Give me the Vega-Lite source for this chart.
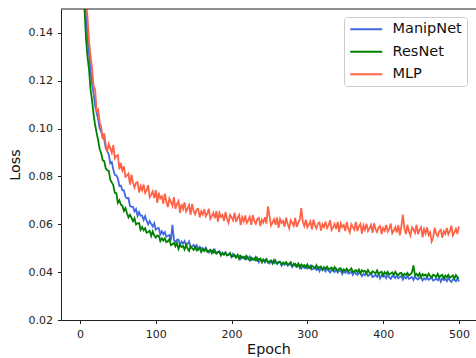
{
"$schema": "https://vega.github.io/schema/vega-lite/v6.json",
"width": 415, "height": 311,
"autosize": {"type": "none"},
"padding": {"left": 61, "top": 9, "right": 0, "bottom": 38},
"config": {
  "view": {"stroke": null},
  "font": "DejaVu Sans",
  "axis": {"grid": false, "labelFontSize": 11, "labelFont": "DejaVu Sans", "titleFont": "DejaVu Sans", "titleFontSize": 14.3, "titleFontWeight": "normal", "tickSize": 3.5, "tickColor": "#222", "domainColor": "#222", "labelColor": "#222", "titleColor": "#111", "tickWidth": 1, "domainWidth": 1}
},
"data": {"values": [
{"e":1,"a":0.26,"b":0.25,"c":0.27},
{"e":2,"a":0.22,"b":0.205,"c":0.225},
{"e":4,"a":0.185,"b":0.172,"c":0.19},
{"e":6,"a":0.164,"b":0.15,"c":0.168},
{"e":8,"a":0.1498,"b":0.1376,"c":0.1523},
{"e":10,"a":0.1373,"b":0.13,"c":0.1465},
{"e":12,"a":0.1314,"b":0.1245,"c":0.1363},
{"e":14,"a":0.1241,"b":0.1164,"c":0.1305},
{"e":16,"a":0.1187,"b":0.1117,"c":0.125},
{"e":18,"a":0.1148,"b":0.1059,"c":0.1178},
{"e":20,"a":0.1095,"b":0.1015,"c":0.1165},
{"e":22,"a":0.1067,"b":0.0982,"c":0.1075},
{"e":24,"a":0.1041,"b":0.0952,"c":0.108},
{"e":26,"a":0.1002,"b":0.0915,"c":0.1028},
{"e":28,"a":0.0988,"b":0.0897,"c":0.1008},
{"e":30,"a":0.0963,"b":0.0868,"c":0.0958},
{"e":32,"a":0.0955,"b":0.0864,"c":0.098},
{"e":34,"a":0.0919,"b":0.0835,"c":0.0934},
{"e":36,"a":0.0905,"b":0.0826,"c":0.0905},
{"e":38,"a":0.0893,"b":0.0823,"c":0.0936},
{"e":40,"a":0.0855,"b":0.0786,"c":0.0918},
{"e":42,"a":0.086,"b":0.0775,"c":0.0899},
{"e":44,"a":0.0829,"b":0.0763,"c":0.0931},
{"e":46,"a":0.0807,"b":0.0732,"c":0.0876},
{"e":48,"a":0.0804,"b":0.073,"c":0.0886},
{"e":50,"a":0.0792,"b":0.069,"c":0.0889},
{"e":52,"a":0.076,"b":0.0701,"c":0.0829},
{"e":54,"a":0.0762,"b":0.0682,"c":0.0856},
{"e":56,"a":0.0742,"b":0.0677,"c":0.0825},
{"e":58,"a":0.0742,"b":0.0656,"c":0.0842},
{"e":60,"a":0.0715,"b":0.0668,"c":0.0798},
{"e":62,"a":0.0709,"b":0.0646,"c":0.0803},
{"e":64,"a":0.071,"b":0.0629,"c":0.0812},
{"e":66,"a":0.0677,"b":0.064,"c":0.0766},
{"e":68,"a":0.0673,"b":0.0627,"c":0.0807},
{"e":70,"a":0.0673,"b":0.0613,"c":0.0773},
{"e":72,"a":0.0654,"b":0.0625,"c":0.0754},
{"e":74,"a":0.0664,"b":0.0599,"c":0.0774},
{"e":76,"a":0.0635,"b":0.0604,"c":0.0776},
{"e":78,"a":0.0651,"b":0.0605,"c":0.0733},
{"e":80,"a":0.0636,"b":0.0577,"c":0.076},
{"e":82,"a":0.0636,"b":0.0589,"c":0.0742},
{"e":84,"a":0.0618,"b":0.0575,"c":0.0766},
{"e":86,"a":0.0634,"b":0.0584,"c":0.0731},
{"e":88,"a":0.0614,"b":0.0565,"c":0.0742},
{"e":90,"a":0.06,"b":0.0568,"c":0.0764},
{"e":92,"a":0.0614,"b":0.0573,"c":0.0713},
{"e":94,"a":0.0602,"b":0.0551,"c":0.0724},
{"e":96,"a":0.0591,"b":0.057,"c":0.0738},
{"e":98,"a":0.0604,"b":0.0554,"c":0.071},
{"e":100,"a":0.0578,"b":0.0544,"c":0.0743},
{"e":102,"a":0.0583,"b":0.0553,"c":0.069},
{"e":104,"a":0.0584,"b":0.0552,"c":0.0732},
{"e":106,"a":0.0558,"b":0.053,"c":0.0709},
{"e":108,"a":0.0571,"b":0.0542,"c":0.0717},
{"e":110,"a":0.0558,"b":0.0532,"c":0.0686},
{"e":112,"a":0.0568,"b":0.0542,"c":0.0728},
{"e":114,"a":0.0549,"b":0.0525,"c":0.0694},
{"e":116,"a":0.0551,"b":0.0529,"c":0.0672},
{"e":118,"a":0.0555,"b":0.0538,"c":0.0708},
{"e":120,"a":0.0533,"b":0.0513,"c":0.0694},
{"e":122,"a":0.0598,"b":0.0517,"c":0.0677},
{"e":124,"a":0.0535,"b":0.0522,"c":0.0713},
{"e":126,"a":0.0525,"b":0.0508,"c":0.0665},
{"e":128,"a":0.0535,"b":0.0522,"c":0.0686},
{"e":130,"a":0.0536,"b":0.0497,"c":0.0698},
{"e":132,"a":0.0515,"b":0.0515,"c":0.0648},
{"e":134,"a":0.0528,"b":0.0505,"c":0.0685},
{"e":136,"a":0.0519,"b":0.0509,"c":0.0664},
{"e":138,"a":0.053,"b":0.0495,"c":0.0692},
{"e":140,"a":0.0514,"b":0.0515,"c":0.0654},
{"e":142,"a":0.0518,"b":0.0499,"c":0.0666},
{"e":144,"a":0.0528,"b":0.0489,"c":0.0681},
{"e":146,"a":0.0504,"b":0.0507,"c":0.064},
{"e":148,"a":0.0508,"b":0.05,"c":0.0685},
{"e":150,"a":0.0514,"b":0.0493,"c":0.0655},
{"e":152,"a":0.0502,"b":0.0506,"c":0.0642},
{"e":154,"a":0.0512,"b":0.0491,"c":0.0662},
{"e":156,"a":0.0494,"b":0.0497,"c":0.0665},
{"e":158,"a":0.0506,"b":0.05,"c":0.0629},
{"e":160,"a":0.0499,"b":0.0484,"c":0.0654},
{"e":162,"a":0.0501,"b":0.0496,"c":0.0641},
{"e":164,"a":0.049,"b":0.0488,"c":0.0663},
{"e":166,"a":0.0502,"b":0.0497,"c":0.0634},
{"e":168,"a":0.049,"b":0.0484,"c":0.0645},
{"e":170,"a":0.0482,"b":0.0488,"c":0.0665},
{"e":172,"a":0.0494,"b":0.0492,"c":0.0623},
{"e":174,"a":0.0488,"b":0.0479,"c":0.0634},
{"e":176,"a":0.0481,"b":0.0493,"c":0.0648},
{"e":178,"a":0.0493,"b":0.0483,"c":0.0625},
{"e":180,"a":0.0478,"b":0.0478,"c":0.0655},
{"e":182,"a":0.0484,"b":0.0484,"c":0.0611},
{"e":184,"a":0.0487,"b":0.0485,"c":0.0648},
{"e":186,"a":0.047,"b":0.0471,"c":0.0631},
{"e":188,"a":0.0482,"b":0.0479,"c":0.0639},
{"e":190,"a":0.0474,"b":0.0473,"c":0.0614},
{"e":192,"a":0.0483,"b":0.0481,"c":0.0652},
{"e":194,"a":0.047,"b":0.047,"c":0.0624},
{"e":196,"a":0.0473,"b":0.0473,"c":0.0606},
{"e":198,"a":0.0477,"b":0.048,"c":0.0639},
{"e":200,"a":0.0464,"b":0.0464,"c":0.0629},
{"e":202,"a":0.0477,"b":0.0467,"c":0.0616},
{"e":204,"a":0.0467,"b":0.0472,"c":0.0649},
{"e":206,"a":0.0462,"b":0.0461,"c":0.061},
{"e":208,"a":0.0469,"b":0.0472,"c":0.0628},
{"e":210,"a":0.0469,"b":0.0455,"c":0.0639},
{"e":212,"a":0.0455,"b":0.0468,"c":0.0597},
{"e":214,"a":0.0464,"b":0.0461,"c":0.063},
{"e":216,"a":0.0458,"b":0.0464,"c":0.0612},
{"e":218,"a":0.0466,"b":0.0454,"c":0.0637},
{"e":220,"a":0.0455,"b":0.0467,"c":0.0606},
{"e":222,"a":0.0459,"b":0.0456,"c":0.0617},
{"e":224,"a":0.0466,"b":0.0449,"c":0.0631},
{"e":226,"a":0.045,"b":0.0461,"c":0.0598},
{"e":228,"a":0.0453,"b":0.0456,"c":0.0638},
{"e":230,"a":0.0458,"b":0.0451,"c":0.0614},
{"e":232,"a":0.0449,"b":0.0463,"c":0.0602},
{"e":234,"a":0.0459,"b":0.0448,"c":0.0622},
{"e":236,"a":0.0442,"b":0.0454,"c":0.0627},
{"e":238,"a":0.0455,"b":0.0457,"c":0.0593},
{"e":240,"a":0.0448,"b":0.0441,"c":0.0619},
{"e":242,"a":0.0451,"b":0.0453,"c":0.0607},
{"e":244,"a":0.0441,"b":0.0445,"c":0.063},
{"e":246,"a":0.0454,"b":0.0454,"c":0.0603},
{"e":248,"a":0.0443,"b":0.0441,"c":0.0675},
{"e":250,"a":0.0436,"b":0.0445,"c":0.0636},
{"e":252,"a":0.0448,"b":0.0449,"c":0.0595},
{"e":254,"a":0.0443,"b":0.0436,"c":0.0606},
{"e":256,"a":0.0437,"b":0.0451,"c":0.0621},
{"e":258,"a":0.0449,"b":0.0441,"c":0.0598},
{"e":260,"a":0.0434,"b":0.0436,"c":0.0629},
{"e":262,"a":0.044,"b":0.0443,"c":0.0585},
{"e":264,"a":0.0443,"b":0.0444,"c":0.0622},
{"e":266,"a":0.0427,"b":0.0431,"c":0.0606},
{"e":268,"a":0.0439,"b":0.044,"c":0.0614},
{"e":270,"a":0.0431,"b":0.0434,"c":0.059},
{"e":272,"a":0.044,"b":0.0442,"c":0.0628},
{"e":274,"a":0.0428,"b":0.0431,"c":0.0601},
{"e":276,"a":0.0431,"b":0.0435,"c":0.0583},
{"e":278,"a":0.0435,"b":0.0442,"c":0.0617},
{"e":280,"a":0.0422,"b":0.0426,"c":0.0606},
{"e":282,"a":0.0436,"b":0.043,"c":0.0594},
{"e":284,"a":0.0426,"b":0.0435,"c":0.0627},
{"e":286,"a":0.0421,"b":0.0425,"c":0.0589},
{"e":288,"a":0.0428,"b":0.0436,"c":0.0607},
{"e":290,"a":0.0429,"b":0.0419,"c":0.0619},
{"e":292,"a":0.0415,"b":0.0432,"c":0.0668},
{"e":294,"a":0.0424,"b":0.0426,"c":0.0611},
{"e":296,"a":0.0418,"b":0.0429,"c":0.0593},
{"e":298,"a":0.0426,"b":0.0419,"c":0.0619},
{"e":300,"a":0.0415,"b":0.0432,"c":0.0587},
{"e":302,"a":0.0419,"b":0.0421,"c":0.0599},
{"e":304,"a":0.0427,"b":0.0415,"c":0.0612},
{"e":306,"a":0.0411,"b":0.0427,"c":0.0579},
{"e":308,"a":0.0414,"b":0.0422,"c":0.0619},
{"e":310,"a":0.0419,"b":0.0417,"c":0.0595},
{"e":312,"a":0.041,"b":0.0429,"c":0.0583},
{"e":314,"a":0.042,"b":0.0414,"c":0.0603},
{"e":316,"a":0.0404,"b":0.0421,"c":0.0608},
{"e":318,"a":0.0417,"b":0.0424,"c":0.0574},
{"e":320,"a":0.041,"b":0.0409,"c":0.06},
{"e":322,"a":0.0413,"b":0.0421,"c":0.0588},
{"e":324,"a":0.0403,"b":0.0414,"c":0.0611},
{"e":326,"a":0.0417,"b":0.0423,"c":0.0584},
{"e":328,"a":0.0406,"b":0.0411,"c":0.0596},
{"e":330,"a":0.0399,"b":0.0415,"c":0.0617},
{"e":332,"a":0.041,"b":0.0419,"c":0.0576},
{"e":334,"a":0.0407,"b":0.0407,"c":0.0587},
{"e":336,"a":0.0401,"b":0.0421,"c":0.0602},
{"e":338,"a":0.0413,"b":0.0412,"c":0.058},
{"e":340,"a":0.0398,"b":0.0407,"c":0.061},
{"e":342,"a":0.0405,"b":0.0415,"c":0.0567},
{"e":344,"a":0.0408,"b":0.0416,"c":0.0604},
{"e":346,"a":0.0392,"b":0.0402,"c":0.0588},
{"e":348,"a":0.0404,"b":0.0412,"c":0.0597},
{"e":350,"a":0.0397,"b":0.0406,"c":0.0572},
{"e":352,"a":0.0406,"b":0.0415,"c":0.061},
{"e":354,"a":0.0394,"b":0.0404,"c":0.0583},
{"e":356,"a":0.0397,"b":0.0409,"c":0.0566},
{"e":358,"a":0.0402,"b":0.0416,"c":0.06},
{"e":360,"a":0.0389,"b":0.0401,"c":0.0589},
{"e":362,"a":0.0403,"b":0.0404,"c":0.0577},
{"e":364,"a":0.0393,"b":0.0409,"c":0.061},
{"e":366,"a":0.0389,"b":0.04,"c":0.0572},
{"e":368,"a":0.0396,"b":0.0411,"c":0.0591},
{"e":370,"a":0.0397,"b":0.0395,"c":0.0602},
{"e":372,"a":0.0383,"b":0.0408,"c":0.0561},
{"e":374,"a":0.0393,"b":0.0402,"c":0.0595},
{"e":376,"a":0.0387,"b":0.0405,"c":0.0577},
{"e":378,"a":0.0395,"b":0.0395,"c":0.0603},
{"e":380,"a":0.0384,"b":0.0409,"c":0.0572},
{"e":382,"a":0.0389,"b":0.0398,"c":0.0583},
{"e":384,"a":0.0396,"b":0.0392,"c":0.0597},
{"e":386,"a":0.038,"b":0.0404,"c":0.0564},
{"e":388,"a":0.0383,"b":0.04,"c":0.0604},
{"e":390,"a":0.0389,"b":0.0394,"c":0.058},
{"e":392,"a":0.038,"b":0.0407,"c":0.0568},
{"e":394,"a":0.0391,"b":0.0392,"c":0.0588},
{"e":396,"a":0.0374,"b":0.0399,"c":0.0593},
{"e":398,"a":0.0388,"b":0.0402,"c":0.0559},
{"e":400,"a":0.0381,"b":0.0387,"c":0.0585},
{"e":402,"a":0.0385,"b":0.04,"c":0.0573},
{"e":404,"a":0.0375,"b":0.0392,"c":0.0597},
{"e":406,"a":0.0389,"b":0.0402,"c":0.057},
{"e":408,"a":0.0379,"b":0.039,"c":0.0581},
{"e":410,"a":0.0372,"b":0.0394,"c":0.0603},
{"e":412,"a":0.0384,"b":0.0399,"c":0.0562},
{"e":414,"a":0.0381,"b":0.0387,"c":0.0573},
{"e":416,"a":0.0375,"b":0.0401,"c":0.0588},
{"e":418,"a":0.0387,"b":0.0392,"c":0.0566},
{"e":420,"a":0.0374,"b":0.0388,"c":0.0597},
{"e":422,"a":0.038,"b":0.0395,"c":0.0554},
{"e":424,"a":0.0384,"b":0.0397,"c":0.0591},
{"e":426,"a":0.0369,"b":0.0384,"c":0.064},
{"e":428,"a":0.0381,"b":0.0393,"c":0.0584},
{"e":430,"a":0.0374,"b":0.0388,"c":0.0559},
{"e":432,"a":0.0383,"b":0.0397,"c":0.0598},
{"e":434,"a":0.0372,"b":0.0386,"c":0.0571},
{"e":436,"a":0.0376,"b":0.0391,"c":0.0553},
{"e":438,"a":0.038,"b":0.0399,"c":0.0587},
{"e":440,"a":0.0368,"b":0.0428,"c":0.0577},
{"e":442,"a":0.0383,"b":0.0387,"c":0.0564},
{"e":444,"a":0.0373,"b":0.0393,"c":0.0598},
{"e":446,"a":0.0369,"b":0.0384,"c":0.0559},
{"e":448,"a":0.0377,"b":0.0395,"c":0.0578},
{"e":450,"a":0.0378,"b":0.0379,"c":0.0588},
{"e":452,"a":0.0365,"b":0.0392,"c":0.0546},
{"e":454,"a":0.0375,"b":0.0386,"c":0.058},
{"e":456,"a":0.0369,"b":0.039,"c":0.0562},
{"e":458,"a":0.0378,"b":0.038,"c":0.0587},
{"e":460,"a":0.0368,"b":0.0394,"c":0.0555},
{"e":462,"a":0.0372,"b":0.0384,"c":0.0566},
{"e":464,"a":0.0379,"b":0.0377,"c":0.0528},
{"e":466,"a":0.0365,"b":0.0389,"c":0.0545},
{"e":468,"a":0.0368,"b":0.0386,"c":0.0586},
{"e":470,"a":0.0374,"b":0.038,"c":0.0561},
{"e":472,"a":0.0366,"b":0.0393,"c":0.055},
{"e":474,"a":0.0376,"b":0.0379,"c":0.0571},
{"e":476,"a":0.036,"b":0.0385,"c":0.0577},
{"e":478,"a":0.0374,"b":0.0389,"c":0.0544},
{"e":480,"a":0.0367,"b":0.0374,"c":0.0571},
{"e":482,"a":0.0371,"b":0.0386,"c":0.056},
{"e":484,"a":0.0362,"b":0.0379,"c":0.0585},
{"e":486,"a":0.0375,"b":0.0389,"c":0.0558},
{"e":488,"a":0.0365,"b":0.0377,"c":0.0571},
{"e":490,"a":0.0359,"b":0.0381,"c":0.0594},
{"e":492,"a":0.037,"b":0.0386,"c":0.0553},
{"e":494,"a":0.0367,"b":0.0373,"c":0.0566},
{"e":496,"a":0.0362,"b":0.0388,"c":0.0581},
{"e":498,"a":0.0374,"b":0.0379,"c":0.056},
{"e":500,"a":0.036,"b":0.0375,"c":0.0591}
]},
"layer": [
  {
    "transform": [{"fold": ["a", "b", "c"], "as": ["s", "v"]}],
    "mark": {"type": "line", "clip": true, "strokeWidth": 1.8},
    "encoding": {
      "x": {"field": "e", "type": "quantitative", "scale": {"domain": [-25, 522.5], "nice": false, "zero": false},
            "axis": {"title": "Epoch", "values": [0, 100, 200, 300, 400, 500], "labelPadding": 4.5, "titlePadding": 3}},
      "y": {"field": "v", "type": "quantitative", "scale": {"domain": [0.02, 0.15], "nice": false, "zero": false},
            "axis": {"title": "Loss", "values": [0.02, 0.04, 0.06, 0.08, 0.1, 0.12, 0.14], "format": ".2f", "labelPadding": 5, "titlePadding": 6}},
      "color": {"field": "s", "type": "nominal",
                "scale": {"domain": ["a", "b", "c"], "range": ["#4169e1", "#008000", "#ff6347"]},
                "legend": {"orient": "none", "legendX": 283, "legendY": 8, "title": null,
                           "labelExpr": "datum.label == 'a' ? 'ManipNet' : datum.label == 'b' ? 'ResNet' : 'MLP'",
                           "symbolType": "M-4,0H4", "symbolSize": 64, "symbolStrokeWidth": 1.8,
                           "symbolOffset": 10, "labelOffset": 19, "padding": 5, "rowPadding": 7.5,
                           "labelFontSize": 14.5, "labelFont": "DejaVu Sans", "labelColor": "#111",
                           "strokeColor": "#cccccc", "fillColor": "#ffffff", "cornerRadius": 3}}
    }
  },
  {
    "data": {"values": [{}]},
    "mark": {"type": "rule", "color": "#222", "strokeWidth": 1},
    "encoding": {"y": {"datum": 0.15}}
  }
]
}
